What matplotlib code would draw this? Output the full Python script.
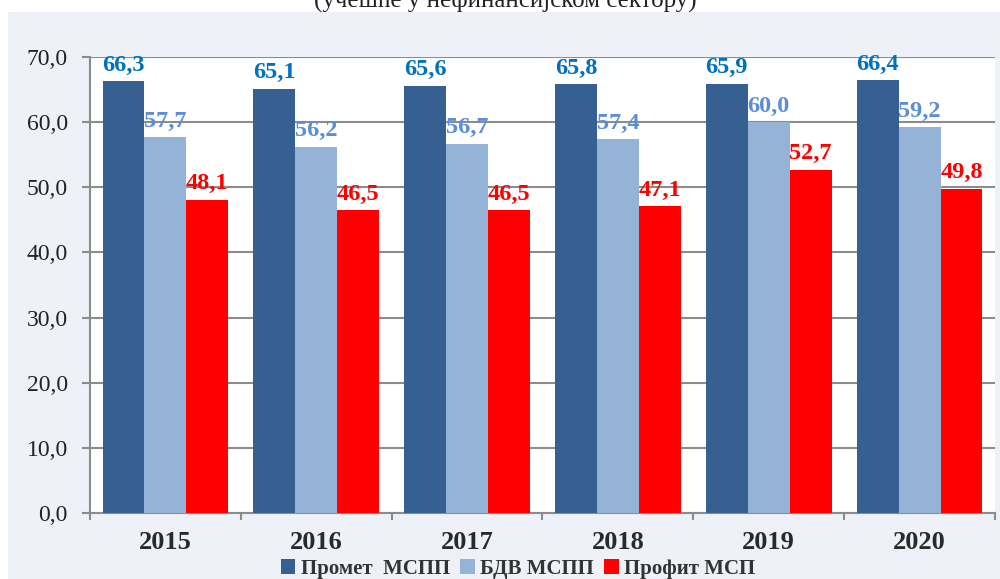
import matplotlib.pyplot as plt
from matplotlib.patches import Rectangle
import numpy as np

# podaci
godine = ["2015", "2016", "2017", "2018", "2019", "2020"]
promet = [66.3, 65.1, 65.6, 65.8, 65.9, 66.4]
bdv = [57.7, 56.2, 56.7, 57.4, 60.0, 59.2]
profit = [48.1, 46.5, 46.5, 47.1, 52.7, 49.8]
nazivi = ["Промет  МСПП", "БДВ МСПП", "Профит МСП"]

boje = ["#366092", "#95B3D7", "#FF0000"]
boje_lab = ["#0070C0", "#5B8ED6", "#FF0000"]

plt.rcParams['font.family'] = ['Liberation Serif', 'DejaVu Serif']

fig = plt.figure(figsize=(10, 5.79), dpi=100, facecolor="white")
fig.patches.append(Rectangle((0.008, 0), 0.992, 1 - 12 / 579, transform=fig.transFigure,
                             facecolor="#EEF2F8", edgecolor="none", zorder=-10))
fig.text(0.505, 1 - 6.5 / 579, "(учешће у нефинансијском сектору)", ha="center", va="baseline",
         fontsize=18, color="#222222")

ax = fig.add_axes([0.09, 0.114, 0.905, 0.9016 - 0.114])
ax.set_facecolor("white")

x = np.arange(len(godine))
w = 0.278
for i, (vals, b, bl, n) in enumerate(zip([promet, bdv, profit], boje, boje_lab, nazivi)):
    pos = x + (i - 1) * w
    bars = ax.bar(pos, vals, w, color=b, label=n, zorder=3)
    for p, v in zip(pos, vals):
        ax.annotate(f"{v:.1f}".replace(".", ","), (p, v), xytext=(0, 4), textcoords="offset points",
                    ha="center", va="bottom", fontsize=17.5, fontweight="bold", color=bl, zorder=4)

ax.set_ylim(0, 70)
ax.set_xlim(-0.5, len(godine) - 0.5)
ax.set_yticks(np.arange(0, 71, 10))
ax.set_yticklabels([f"{t:.1f}".replace(".", ",") for t in np.arange(0, 71, 10)], fontsize=17, color="#222222")
ax.yaxis.grid(True, color="#8C8C8C", lw=1.5, zorder=0)

ax.set_xticks(np.arange(-0.5, len(godine)))
ax.set_xticklabels([])
ax.set_xticks(x, minor=True)
ax.set_xticklabels(godine, minor=True, fontsize=19, fontweight="bold", color="#2A2A2A")
ax.tick_params(axis="x", which="major", direction="out", length=5, width=1.5, color="#8C8C8C")
ax.tick_params(axis="x", which="minor", length=0, pad=13)
ax.tick_params(axis="y", direction="out", length=6, width=1.5, color="#8C8C8C", pad=10)

for s in ["top", "right"]:
    ax.spines[s].set_visible(False)
for s in ["left", "bottom"]:
    ax.spines[s].set_color("#8C8C8C")
    ax.spines[s].set_linewidth(1.5)

fig.legend(loc="center", bbox_to_anchor=(0.518, 1 - 569 / 579), ncol=3, frameon=False,
           prop={"size": 15, "weight": "bold"}, handlelength=0.7, handleheight=0.7,
           handletextpad=0.25, columnspacing=0.5, borderaxespad=0, labelcolor="#333333")

fig.savefig("out.png", dpi=100, facecolor="white")
